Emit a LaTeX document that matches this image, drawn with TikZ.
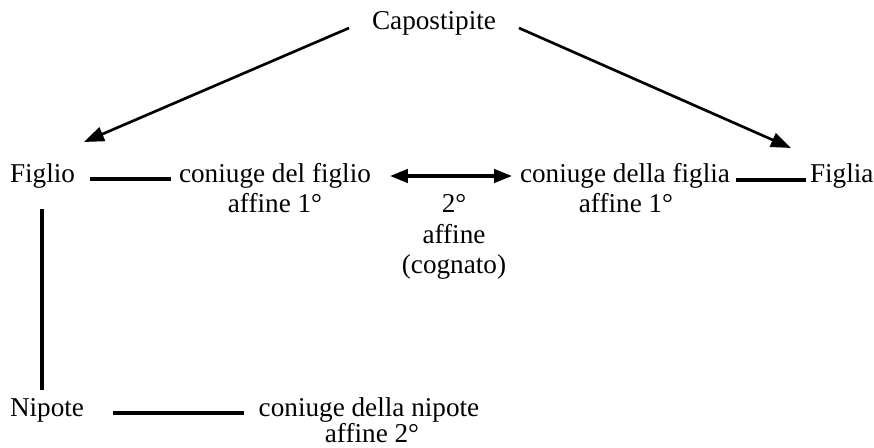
\documentclass[tikz,border=0pt]{standalone}
\usepackage{fontspec}
\setmainfont{Liberation Serif}
\usetikzlibrary{arrows.meta}
\begin{document}
\begin{tikzpicture}[x=0.75pt, y=-0.75pt,
  lbl/.style={inner sep=0pt, outer sep=0pt, font=\fontsize{20.4}{24}\selectfont},
  link/.style={line width=2.6pt},
  descent/.style={line width=2pt, -{Triangle[length=15pt, width=11pt]}},
  both/.style={line width=2.6pt, {Triangle[length=13.5pt, width=10pt]}-{Triangle[length=13.5pt, width=10pt]}}]
  \useasboundingbox (0,0) rectangle (874,448);

  % persons
  \node[lbl, anchor=base] (cap) at (434,30) {Capostipite};
  \node[lbl, anchor=base west] (fig) at (10,183) {Figlio};
  \node[lbl, anchor=base west] (fga) at (810,183) {Figlia};
  \node[lbl, anchor=base west] (nip) at (10,417) {Nipote};

  % spouses and degrees
  \node[lbl, anchor=base] (cdf) at (275,183) {coniuge del figlio};
  \node[lbl, anchor=base] (cdf1) at (275,213) {affine 1°};
  \node[lbl, anchor=base] (cda) at (625,183) {coniuge della figlia};
  \node[lbl, anchor=base] (cda1) at (626,213) {affine 1°};
  \node[lbl, anchor=base] (g2) at (454,213) {2°};
  \node[lbl, anchor=base] (g2a) at (454,244) {affine};
  \node[lbl, anchor=base] (g2b) at (454,274) {(cognato)};
  \node[lbl, anchor=base] (cdn) at (369,417) {coniuge della nipote};
  \node[lbl, anchor=base] (cdn1) at (372,443) {affine 2°};

  % descent from the common ancestor
  \draw[descent] ([shift={(-23,-2)}]cap.base west) -- ([shift={(9,-41)}]fig.base east);
  \draw[descent] ([shift={(23,-2)}]cap.base east) -- ([shift={(-19,-35)}]fga.base west);

  % marriages
  \draw[link] ([shift={(15,-4)}]fig.base east) -- ([shift={(-8,-4)}]cdf.base west);
  \draw[link] ([shift={(6,-3)}]cda.base east) -- ([shift={(-4,-3)}]fga.base west);
  \draw[link] ([shift={(29,-4)}]nip.base east) -- ([shift={(-15,-4)}]cdn.base west);

  % affinity between the two spouses
  \draw[both] ([shift={(19,-7)}]cdf.base east) -- ([shift={(-8,-7)}]cda.base west);

  % son to grandchild
  \draw[link] ([shift={(32,26)}]fig.base west) -- ([shift={(32,-27)}]nip.base west);
\end{tikzpicture}
\end{document}
